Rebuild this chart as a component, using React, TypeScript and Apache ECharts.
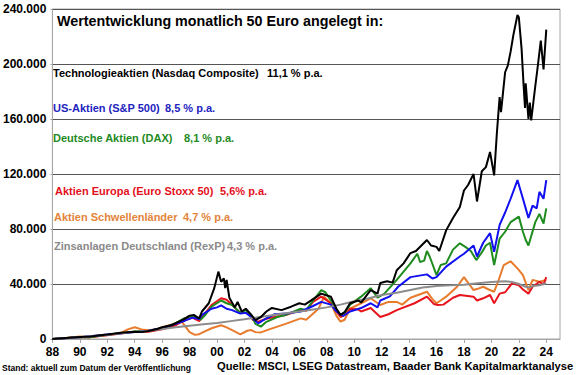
import React, { useEffect, useRef } from "react";
import * as echarts from "echarts";

const yTicks = [0, 40000, 80000, 120000, 160000, 200000, 240000];

const rexp: [number, number][] = [[1988,0],[1989,600],[1990,1300],[1991,2100],[1992,3000],[1993,4200],[1994,5000],[1995,6000],[1996,7300],[1997,8500],[1998,9700],[1999,10700],[2000,11700],[2001,13000],[2002,14300],[2003,15800],[2004,17200],[2005,18800],[2006,20000],[2007,21500],[2008,23000],[2009,25000],[2010,27500],[2011,29500],[2012,32000],[2013,33500],[2014,35500],[2015,37500],[2016,38500],[2017,39000],[2018,39500],[2019,40500],[2020,41500],[2021,42000],[2021.5,41500],[2022,40000],[2022.5,38000],[2022.8,37500],[2023,38500],[2023.5,39000],[2024,40500]];

const nasdaq: [number, number][] = [[1988,0],[1989,700],[1990,1400],[1990.8,1800],[1991.5,2800],[1992,3300],[1993,4600],[1994,5300],[1994.5,5000],[1995,5800],[1995.7,7500],[1996,8500],[1996.7,10000],[1997,11500],[1997.6,14500],[1998,17000],[1998.3,17500],[1998.7,15000],[1998.9,20000],[1999.4,26000],[1999.8,37000],[2000.1,49000],[2000.3,41600],[2000.5,44000],[2000.6,37000],[2000.7,43000],[2000.9,30000],[2001.3,23000],[2001.5,27000],[2001.8,20000],[2002.1,22000],[2002.5,17500],[2002.8,13800],[2003.2,16000],[2003.6,20000],[2004,22600],[2004.7,21000],[2005.4,23500],[2006,26000],[2006.4,25000],[2007,29000],[2007.6,33000],[2007.9,32000],[2008.3,30800],[2008.7,22000],[2009.0,17500],[2009.3,19500],[2009.7,26000],[2010.3,28000],[2010.5,26500],[2011.2,35600],[2011.7,33000],[2011.9,40700],[2012.4,42000],[2012.8,41000],[2013.1,50000],[2013.6,55000],[2014.1,62500],[2014.5,64000],[2015.3,72000],[2015.6,68000],[2016,67000],[2016.2,64000],[2016.7,79000],[2017.2,88000],[2017.7,96000],[2018,108000],[2018.3,112000],[2018.7,120000],[2018.95,100000],[2019.3,122000],[2019.6,125000],[2019.9,136000],[2020.2,119000],[2020.4,150000],[2020.5,163000],[2020.6,176000],[2020.7,165000],[2021,194000],[2021.2,199000],[2021.4,209000],[2021.6,221000],[2021.9,235600],[2022,234000],[2022.2,211000],[2022.35,184000],[2022.45,168000],[2022.5,186000],[2022.7,160000],[2022.8,172000],[2022.9,159000],[2023.2,184000],[2023.4,200000],[2023.6,217000],[2023.8,196000],[2024,225000]];

const sp500: [number, number][] = [[1988,0],[1990,1300],[1992,3200],[1994,5000],[1995,6000],[1996,8000],[1997,11000],[1997.7,13500],[1998.2,15500],[1998.7,14500],[1998.9,17500],[1999.6,22000],[2000.0,23000],[2000.3,24500],[2000.7,22000],[2001.1,21000],[2001.7,18500],[2002.1,19000],[2002.5,16000],[2003.0,11400],[2003.5,14500],[2004.2,18000],[2005,18500],[2006.1,20000],[2007,24000],[2007.6,27000],[2008.3,25000],[2008.7,20000],[2009.2,16700],[2009.7,20000],[2010.5,22500],[2011.2,26000],[2011.7,23000],[2011.9,28000],[2012.6,31000],[2013.2,38000],[2014.1,45000],[2015.3,47000],[2015.7,44000],[2016,45000],[2016.7,52600],[2017.7,60000],[2018,62000],[2018.7,68000],[2018.95,60000],[2019.4,70000],[2019.9,77000],[2020.2,63500],[2020.6,83000],[2021,92000],[2021.4,102000],[2021.9,115600],[2022.3,102000],[2022.5,95000],[2022.7,88000],[2023,97000],[2023.3,95000],[2023.5,107000],[2023.8,102000],[2024,115600]];

const dax: [number, number][] = [[1988,0],[1990,1500],[1990.7,1200],[1992,3000],[1994,5500],[1995,5800],[1996,7800],[1997,11500],[1997.6,15000],[1998.3,17000],[1998.8,14000],[1999.1,17000],[1999.6,23500],[2000.3,28000],[2000.7,26000],[2001.1,24700],[2001.7,19000],[2002.1,21000],[2002.5,17500],[2002.8,11000],[2003.2,9000],[2003.6,12500],[2004.4,16000],[2005,17500],[2006.1,22000],[2006.5,21000],[2007,28000],[2007.6,35600],[2007.9,34000],[2008.3,28000],[2008.7,22000],[2009.0,17500],[2009.3,19000],[2009.7,25000],[2010.5,30800],[2011.2,37000],[2011.7,30000],[2012.2,33000],[2013.1,43000],[2014.1,55000],[2014.6,62000],[2014.8,56000],[2015.1,57000],[2015.3,64000],[2015.5,60000],[2016,46500],[2016.3,53800],[2016.7,55000],[2017.2,65000],[2017.7,69600],[2018.1,67000],[2018.5,64000],[2018.9,57400],[2019.3,63000],[2019.6,68000],[2019.9,70000],[2020.2,53800],[2020.6,73000],[2021,78000],[2021.4,85000],[2022.0,89000],[2022.3,78000],[2022.5,72000],[2022.7,68000],[2023.2,85000],[2023.5,91000],[2023.8,84000],[2024,95000]];

const stoxx: [number, number][] = [[1988,0],[1990,1500],[1990.7,1200],[1992,2800],[1994,5200],[1995,5300],[1996,7000],[1997,10000],[1997.6,13500],[1998.2,15500],[1998.7,13000],[1999.0,17000],[1999.6,24700],[2000.3,29600],[2000.7,28500],[2001.1,24700],[2001.7,19000],[2002.3,19000],[2002.6,14000],[2003.0,12600],[2003.5,14500],[2004.2,16000],[2005,17500],[2006.1,21000],[2006.5,20500],[2007,27000],[2007.6,30800],[2008.3,26000],[2008.7,20000],[2009.0,16000],[2009.3,17500],[2009.7,22000],[2010.3,21500],[2010.5,20000],[2011.2,22500],[2011.9,16000],[2012.5,18000],[2013.1,21000],[2014.4,26000],[2015.3,30800],[2015.8,25500],[2016.1,24700],[2016.5,25000],[2017.2,30000],[2017.7,32000],[2018.7,30800],[2018.95,28000],[2019.4,29600],[2019.9,32000],[2020.2,26000],[2020.6,33000],[2021,34000],[2021.5,40500],[2022.0,39000],[2022.3,36000],[2022.7,33000],[2023.0,38000],[2023.5,41600],[2023.8,39800],[2024,45000]];

const emerging: [number, number][] = [[1988,0],[1989,700],[1990,1800],[1990.7,1300],[1991.5,2500],[1992,3000],[1993,4500],[1993.5,7000],[1994.0,8500],[1994.5,7000],[1995,6300],[1995.5,7000],[1996,8500],[1996.7,10500],[1997.4,13000],[1997.7,9000],[1998.0,5000],[1998.4,3000],[1998.7,3500],[1999.0,5000],[1999.6,7800],[2000.3,10000],[2000.7,8500],[2001.1,6500],[2001.7,3400],[2002.2,6000],[2002.5,6500],[2002.8,5000],[2003.2,4800],[2003.8,7000],[2004.4,9000],[2005,11000],[2006.1,15000],[2006.5,14000],[2007.4,22000],[2007.8,30800],[2008.3,26000],[2008.7,17000],[2009.0,12600],[2009.3,14000],[2009.7,22000],[2010.5,26000],[2011.2,29600],[2011.9,24700],[2012.5,27000],[2013.1,27000],[2013.5,25000],[2014.1,30000],[2015.3,34400],[2015.7,29000],[2016.0,26000],[2016.3,28000],[2016.7,30800],[2017.5,38000],[2018.0,45000],[2018.7,35600],[2019.0,36500],[2019.4,38000],[2019.8,36000],[2020.2,34400],[2020.5,42000],[2020.9,53800],[2021.4,56500],[2021.9,51400],[2022.3,46500],[2022.7,35600],[2023.0,43000],[2023.5,41600],[2024,43000]];

const FONT = "'Liberation Sans', Arial, sans-serif";

const labels = [
  { name: "Technologieaktien (Nasdaq Composite)", pct: "11,1 % p.a.", color: "#000000", x: 53, px: 267, y: 74 },
  { name: "US-Aktien (S&P 500)", pct: "8,5 % p.a.", color: "#2323c0", x: 53, px: 165, y: 109 },
  { name: "Deutsche Aktien (DAX)", pct: "8,1 % p.a.", color: "#238a23", x: 53, px: 184, y: 139 },
  { name: "Aktien Europa (Euro Stoxx 50)", pct: "5,6% p.a.", color: "#e3101c", x: 55, px: 220, y: 192 },
  { name: "Aktien Schwellenländer", pct: "4,7 % p.a.", color: "#e3843a", x: 54, px: 183, y: 218 },
  { name: "Zinsanlagen Deutschland (RexP)", pct: "4,3 % p.a.", color: "#8a8a8a", x: 54, px: 227, y: 247 },
];

export default function App() {
  const ref = useRef<HTMLDivElement>(null);
  useEffect(() => {
    if (!ref.current) return;
    const chart = echarts.init(ref.current, null, { renderer: "svg" });
    const mk = (data: [number, number][], color: string, z: number) => ({
      type: "line",
      data,
      showSymbol: false,
      symbol: "none",
      lineStyle: { color, width: 2 },
      itemStyle: { color },
      z,
    });
    const graphics: any[] = [
      {
        type: "text",
        left: 57,
        top: 14,
        style: {
          text: "Wertentwicklung monatlich 50 Euro angelegt in:",
          font: `bold 14.3px ${FONT}`,
          fill: "#000",
        },
      },
      {
        type: "text",
        left: 2,
        top: 363,
        style: {
          text: "Stand: aktuell zum Datum der Veröffentlichung",
          font: `bold 8.5px ${FONT}`,
          fill: "#000",
        },
      },
      {
        type: "text",
        left: 217,
        top: 360,
        style: {
          text: "Quelle: MSCI, LSEG Datastream, Baader Bank Kapitalmarktanalyse",
          font: `bold 11.2px ${FONT}`,
          fill: "#000",
        },
      },
    ];
    labels.forEach((l) => {
      graphics.push({
        type: "text",
        left: l.x,
        top: l.y - 7,
        style: { text: l.name, font: `bold 11px ${FONT}`, fill: l.color },
      });
      graphics.push({
        type: "text",
        left: l.px,
        top: l.y - 7,
        style: { text: l.pct, font: `bold 11px ${FONT}`, fill: l.color },
      });
    });
    chart.setOption({
      animation: false,
      grid: { left: 50, right: 20, top: 9, bottom: 36, show: true, borderColor: "#a6a6a6", borderWidth: 1 },
      xAxis: {
        type: "value",
        min: 1988,
        max: 2025,
        interval: 2,
        axisLine: { show: true, onZero: false, lineStyle: { color: "#a6a6a6" } },
        axisTick: { show: true, length: 4, lineStyle: { color: "#a6a6a6" } },
        splitLine: { show: false },
        axisLabel: {
          showMaxLabel: false,
          margin: 7,
          color: "#000",
          fontFamily: FONT,
          fontWeight: "bold",
          fontSize: 12,
          formatter: (v: number) => String(v % 100).padStart(2, "0"),
        },
      },
      yAxis: {
        type: "value",
        min: yTicks[0],
        max: yTicks[yTicks.length - 1],
        interval: 40000,
        axisLine: { show: true, lineStyle: { color: "#a6a6a6" } },
        axisTick: { show: true, length: 2, lineStyle: { color: "#a6a6a6" } },
        splitLine: { show: true, lineStyle: { color: "#555555", width: 1 } },
        axisLabel: {
          margin: 6,
          color: "#000",
          fontFamily: FONT,
          fontWeight: "bold",
          fontSize: 12,
          formatter: (v: number) => (v === 0 ? "0" : `${v / 1000}.000`),
        },
      },
      series: [
        mk(emerging, "#e87b2c", 2),
        mk(stoxx, "#e8141c", 3),
        mk(dax, "#1e8c1e", 4),
        mk(sp500, "#1010f0", 5),
        mk(rexp, "#8c8c8c", 6),
        mk(nasdaq, "#000000", 7),
      ],
      graphic: graphics,
    });
    return () => chart.dispose();
  }, []);
  return <div ref={ref} style={{ width: 580, height: 375, position: "absolute", left: 0, top: 0 }} />;
}
